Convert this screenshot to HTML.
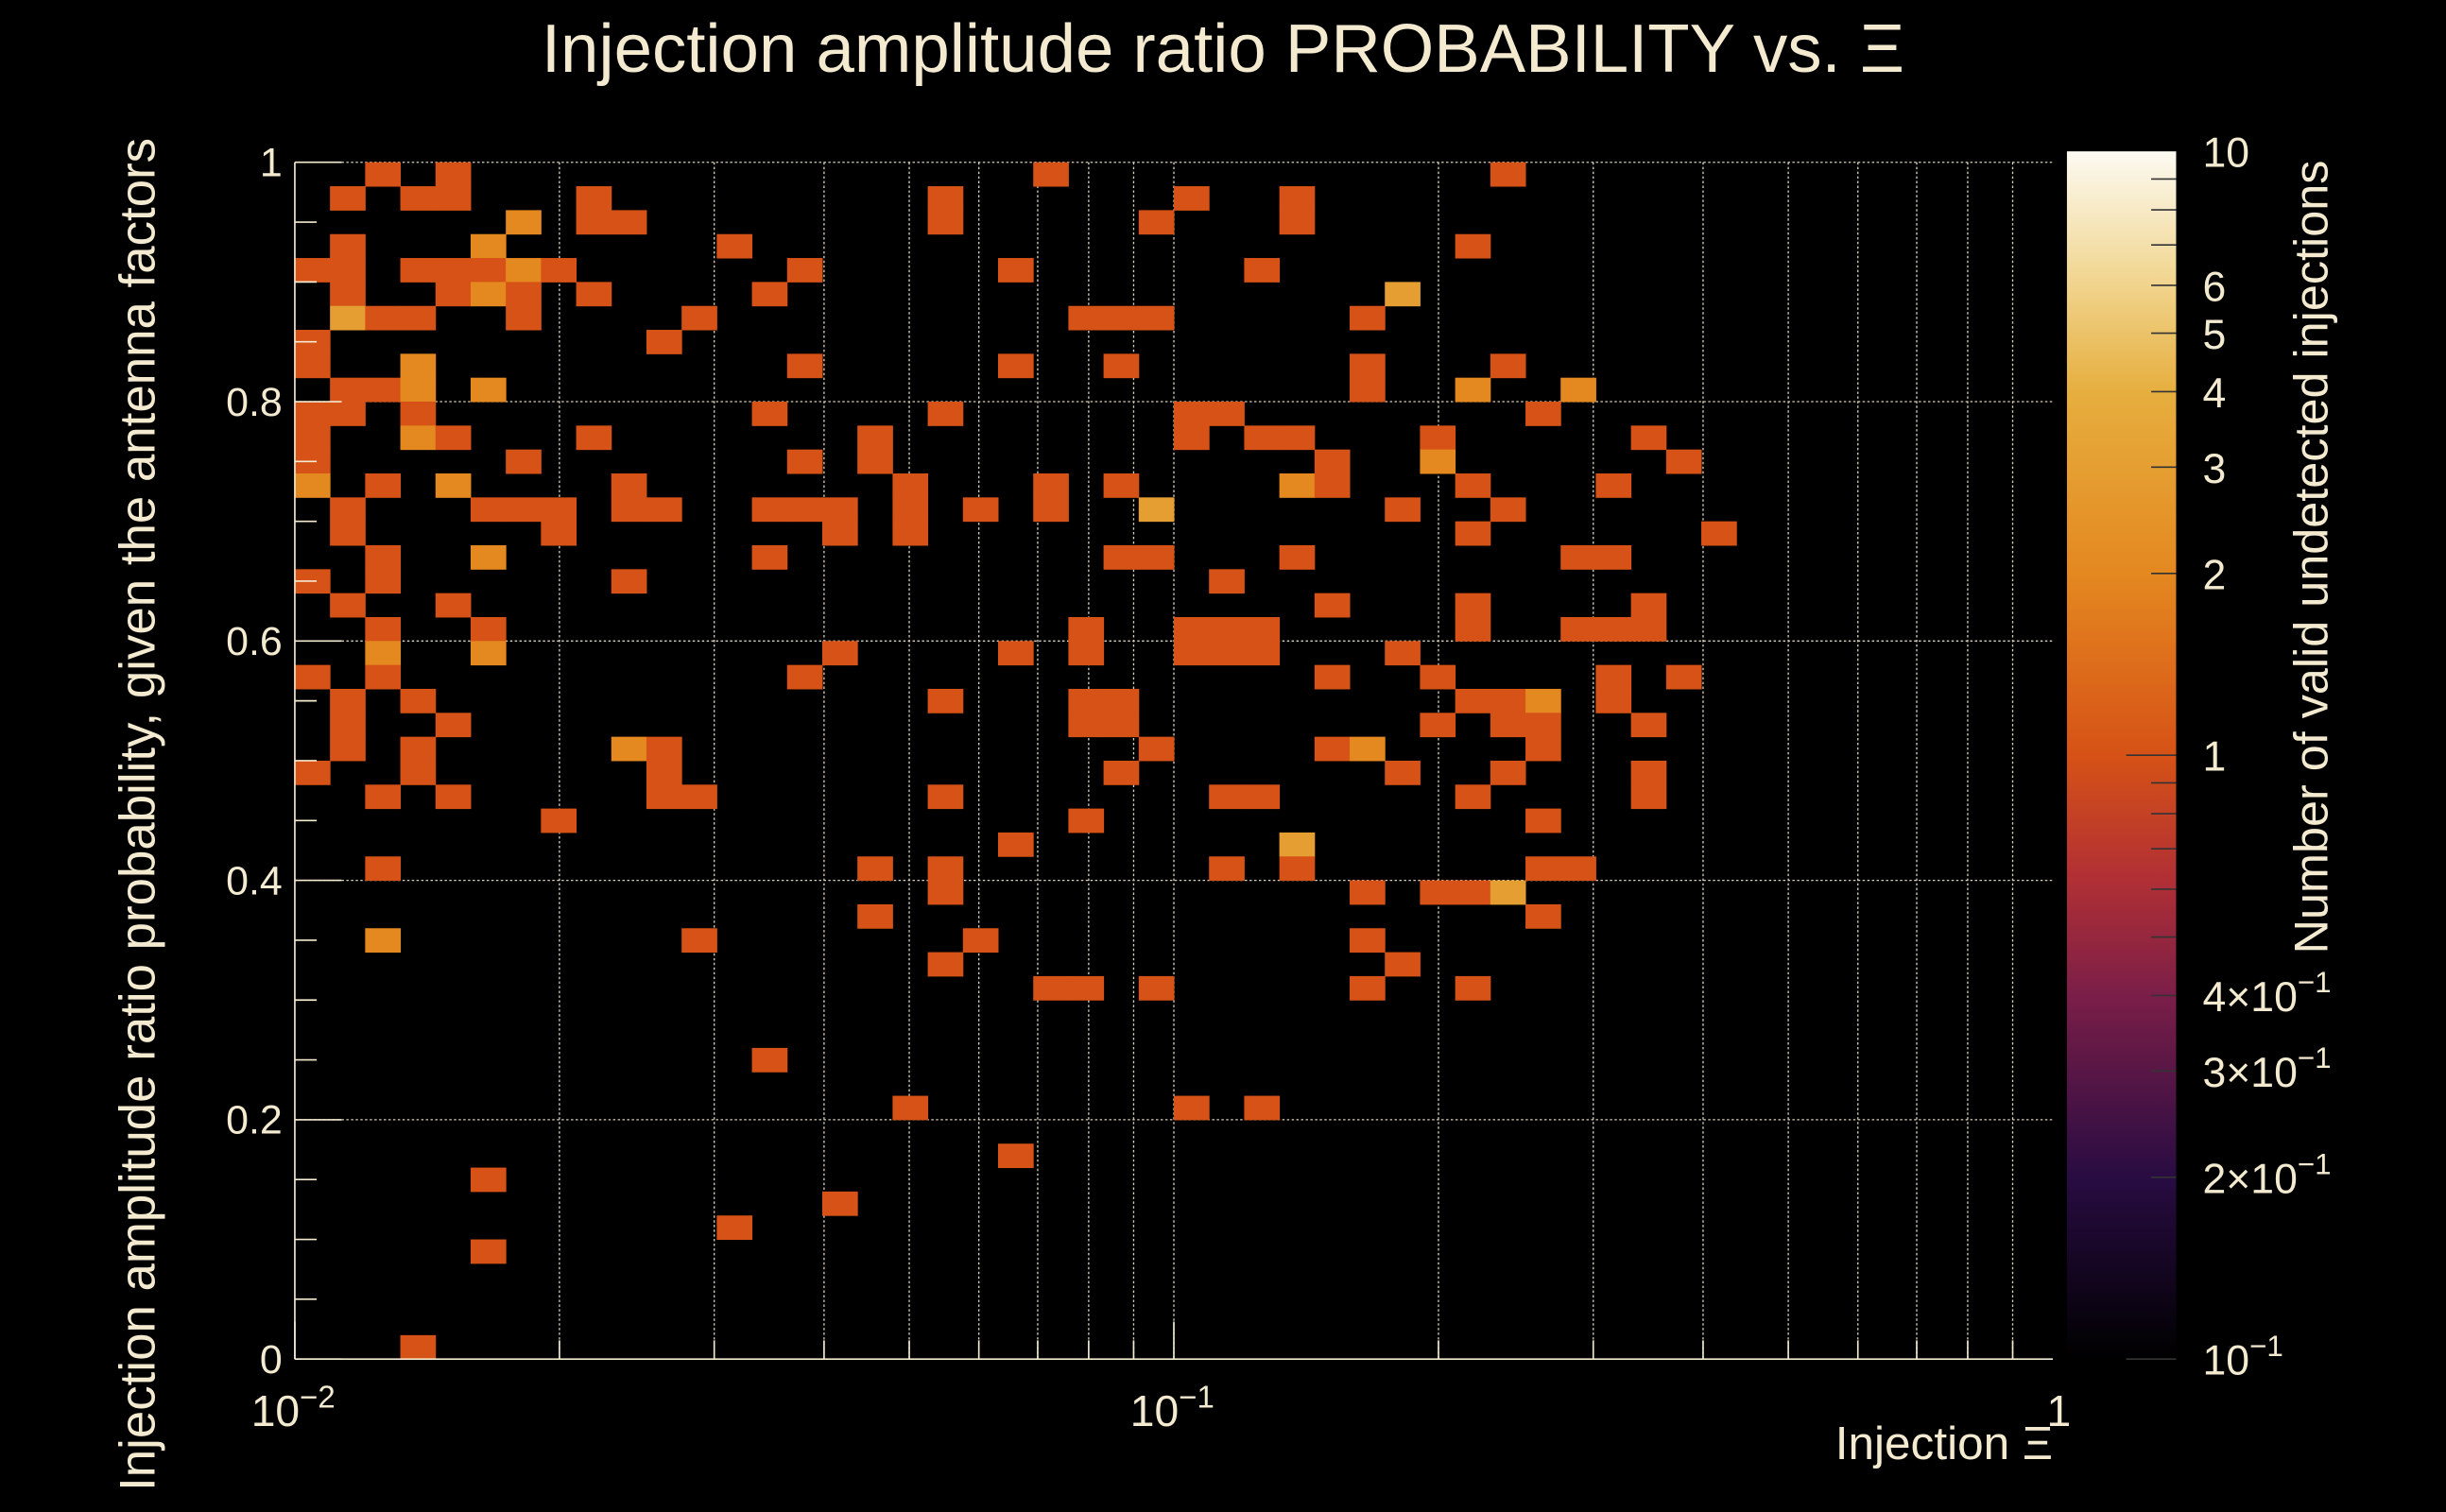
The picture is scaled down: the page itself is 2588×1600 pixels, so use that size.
<!DOCTYPE html>
<html><head><meta charset="utf-8"><style>
html,body{margin:0;padding:0;background:#000;}
svg{display:block;font-family:"Liberation Sans",sans-serif;}
</style></head><body>
<svg id="c" width="2588" height="1600" viewBox="0 0 1568 969" preserveAspectRatio="none" xmlns="http://www.w3.org/2000/svg">
<defs><linearGradient id="cg" x1="0" y1="1" x2="0" y2="0"></linearGradient></defs>
<rect width="1568" height="969" fill="#000"/>
<text x="784" y="46" fill="#f3ead0" font-size="44" text-anchor="middle">Injection amplitude ratio PROBABILITY vs.  Ξ</text>
<g id="grid"></g><g id="cells"></g><g id="axes"></g><g id="cbar"></g>
<text x="1316" y="935" fill="#f3ead0" font-size="30" text-anchor="end">Injection Ξ</text>
<text transform="translate(99,522) rotate(-90)" fill="#f3ead0" font-size="32" text-anchor="middle">Injection amplitude ratio probability, given the antenna factors</text>
<text transform="translate(1492,357) rotate(-90)" fill="#f3ead0" font-size="30.5" text-anchor="middle">Number of valid undetected injections</text>
</svg>
<script>
// cells: [xBin (0..49, log10 x from -2 to 0), yBin from top (0..49, y from 1 to 0), count]
const cellX=[2,4,21,34, 1,3,4,8,18,25,28, 6,8,9,18,24,28, 1,5,12,33, 0,1,3,4,5,6,7,14,20,27, 1,4,5,6,8,13,31, 1,2,3,6,11,22,23,24,30, 0,10, 0,3,14,20,23,30,34, 1,2,3,5,30,33,36, 0,1,3,13,18,25,26,35, 0,3,4,8,16,25,27,28,32,38, 0,6,14,16,29,32,39, 0,2,4,9,17,21,23,28,29,33,37, 1,5,6,7,9,10,13,14,15,17,19,21,24,31,34, 1,7,15,17,33,40, 2,5,13,23,24,28,36,37, 0,2,9,26, 1,4,29,33,38, 2,5,22,25,26,27,33,36,37,38, 2,5,15,20,22,25,26,27,31, 0,2,14,29,32,37,39, 1,3,18,22,23,33,34,35,37, 1,4,22,23,32,34,35,38, 1,3,9,10,24,29,30,35, 0,3,10,23,31,34,38, 2,4,10,11,18,26,27,33,38, 7,22,35, 20,28, 2,16,18,26,28,35,36, 18,30,32,33,34, 16,35, 2,11,19,30, 18,31, 21,22,24,30,33, 13, 17,25,27, 20, 5, 15, 12, 5, 3];
const cellY=[0,0,0,0, 1,1,1,1,1,1,1, 2,2,2,2,2,2, 3,3,3,3, 4,4,4,4,4,4,4,4,4,4, 5,5,5,5,5,5,5, 6,6,6,6,6,6,6,6,6, 7,7, 8,8,8,8,8,8,8, 9,9,9,9,9,9,9, 10,10,10,10,10,10,10,10, 11,11,11,11,11,11,11,11,11,11, 12,12,12,12,12,12,12, 13,13,13,13,13,13,13,13,13,13,13, 14,14,14,14,14,14,14,14,14,14,14,14,14,14,14, 15,15,15,15,15,15, 16,16,16,16,16,16,16,16, 17,17,17,17, 18,18,18,18,18, 19,19,19,19,19,19,19,19,19,19, 20,20,20,20,20,20,20,20,20, 21,21,21,21,21,21,21, 22,22,22,22,22,22,22,22,22, 23,23,23,23,23,23,23,23, 24,24,24,24,24,24,24,24, 25,25,25,25,25,25,25, 26,26,26,26,26,26,26,26,26, 27,27,27, 28,28, 29,29,29,29,29,29,29, 30,30,30,30,30, 31,31, 32,32,32,32, 33,33, 34,34,34,34,34, 37, 39,39,39, 41, 42, 43, 44, 45, 49];
const cellV=[1,1,1,1, 1,1,1,1,1,1,1, 2,1,1,1,1,1, 1,2,1,1, 1,1,1,1,1,2,1,1,1,1, 1,1,2,1,1,1,3, 3,1,1,1,1,1,1,1,1, 1,1, 1,2,1,1,1,1,1, 1,1,2,2,1,2,2, 1,1,1,1,1,1,1,1, 1,2,1,1,1,1,1,1,1,1, 1,1,1,1,1,2,1, 2,1,2,1,1,1,1,2,1,1,1, 1,1,1,1,1,1,1,1,1,1,1,1,3,1,1, 1,1,1,1,1,1, 1,2,1,1,1,1,1,1, 1,1,1,1, 1,1,1,1,1, 1,1,1,1,1,1,1,1,1,1, 2,2,1,1,1,1,1,1,1, 1,1,1,1,1,1,1, 1,1,1,1,1,1,1,2,1, 1,1,1,1,1,1,1,1, 1,1,2,1,1,1,2,1, 1,1,1,1,1,1,1, 1,1,1,1,1,1,1,1,1, 1,1,1, 1,3, 1,1,1,1,1,1,1, 1,1,1,1,3, 1,1, 2,1,1,1, 1,1, 1,1,1,1,1, 1, 1,1,1, 1, 1, 1, 1, 1, 1];
const xTickLabels=["10","10","1"];
const xTickExp=["−2","−1",""];
const yTickVals=[0,0.2,0.4,0.6,0.8,1];
const zTickVals=[10,6,5,4,3,2,1,0.4,0.3,0.2,0.1];
const zTickText=["10","6","5","4","3","2","1","4×10","3×10","2×10","10"];
const zTickExp=["","","","","","","","−1","−1","−1","−1"];

const NS="http://www.w3.org/2000/svg";
const L=189,R=1316,T=104,B=871,NB=50;
const CBL=1325,CBR=1395,CBT=97,CBB=871;
const xs=lx=>L+(lx+2)/2*(R-L);
const ys=v=>B-v*(B-T);
const zs=v=>CBB-(Math.log10(v)+1)/2*(CBB-CBT);
const stops=[[0,[0,0,0]],[0.15,[40,12,66]],[0.3,[122,30,72]],[0.4,[178,48,52]],[0.5,[214,82,22]],[0.65,[228,136,32]],[0.8,[230,174,62]],[0.9,[242,216,150]],[1,[252,250,242]]];
function col(v){const t=(Math.log10(v)+1)/2;for(let k=1;k<stops.length;k++){if(t<=stops[k][0]){const a=stops[k-1],b=stops[k],f=(t-a[0])/(b[0]-a[0]);const c=a[1].map((q,n)=>Math.round(q+(b[1][n]-q)*f));return `rgb(${c})`;}}return "rgb(252,250,242)";}
function mk(tag,attrs,parent){const e=document.createElementNS(NS,tag);for(const k in attrs)e.setAttribute(k,attrs[k]);parent.appendChild(e);return e;}
const grid=document.getElementById('grid'),cells=document.getElementById('cells'),axes=document.getElementById('axes'),cb=document.getElementById('cbar');
const TX="#f3ead0";
for(let d=-2;d<0;d++){for(let m=1;m<=9;m++){const lx=d+Math.log10(m);if(lx<=-2)continue;const x=xs(lx);
 const g=mk('line',{x1:x,x2:x,y1:T,y2:B,stroke:"#d8d0b8","stroke-width":0.8,"stroke-dasharray":"1.5,1.5"},grid);
 }}
yTickVals.forEach(v=>{if(v===0)return;const y=ys(v);const g=mk('line',{x1:L,x2:R,y1:y,y2:y,stroke:"#d8d0b8","stroke-width":0.8,"stroke-dasharray":"1.5,1.5"},grid);
 });
const cw=(R-L)/NB,ch=(B-T)/NB;
for(let k=0;k<cellX.length;k++){const x0=xs(-2+cellX[k]*2/NB),y0=ys(1-cellY[k]/NB);
 const r=mk('rect',{x:x0,y:y0,width:cw+0.3,height:ch+0.3,fill:col(cellV[k])},cells);
 }
mk('line',{x1:L,x2:R,y1:B,y2:B,stroke:TX,"stroke-width":1},axes);
mk('line',{x1:L,x2:L,y1:T,y2:B,stroke:TX,"stroke-width":1},axes);
for(let k=0;k<=20;k++){const v=k*0.05,y=ys(v),len=(k%4===0)?30:14;mk('line',{x1:L,x2:L+len,y1:y,y2:y,stroke:TX,"stroke-width":1},axes);}
yTickVals.forEach(v=>{const t=mk('text',{x:L-8,y:ys(v)+9,fill:TX,"font-size":26,"text-anchor":"end"},axes);t.textContent=String(v);
 });
for(let d=-2;d<0;d++)for(let m=1;m<=9;m++){const lx=d+Math.log10(m),x=xs(lx);const len=m===1?24:12;mk('line',{x1:x,x2:x,y1:B,y2:B-len,stroke:TX,"stroke-width":1},axes);}
[-2,-1,0].forEach((d,k)=>{const x=xs(d);const t=mk('text',{x:x-(k<2?28:4),y:914,fill:TX,"font-size":28},axes);
 t.textContent=xTickLabels[k];
 if(xTickExp[k]){const s=mk('tspan',{dy:-12,"font-size":20},t);s.textContent=xTickExp[k];}
 });
const grad=document.getElementById('cg');stops.forEach(s=>mk('stop',{offset:s[0],"stop-color":`rgb(${s[1]})`},grad));
const cr=mk('rect',{x:CBL,y:CBT,width:CBR-CBL,height:CBB-CBT,fill:"url(#cg)"},cb);

for(let d=-1;d<1;d++)for(let m=1;m<=9;m++){const v=m*Math.pow(10,d);if(v<0.1)continue;const y=zs(v);const len=m===1?32:16;mk('line',{x1:CBR-len,x2:CBR,y1:y,y2:y,stroke:"#333","stroke-width":1},cb);}
zTickVals.forEach((v,k)=>{const t=mk('text',{x:1412,y:zs(v)+10,fill:TX,"font-size":27},cb);t.textContent=zTickText[k];
 if(zTickExp[k]){const s=mk('tspan',{dy:-12,"font-size":19},t);s.textContent=zTickExp[k];}
 });
</script>
</body></html>
